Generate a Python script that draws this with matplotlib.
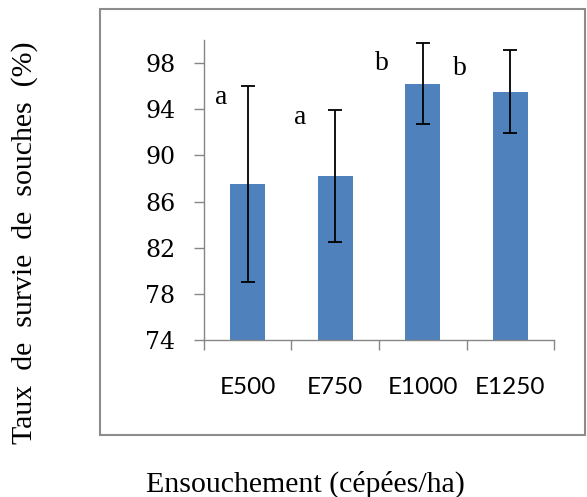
import matplotlib
matplotlib.use("Agg")
import matplotlib.pyplot as plt
from matplotlib.patches import Rectangle
import numpy as np

categories = ["E500", "E750", "E1000", "E1250"]
survival = [87.5, 88.2, 96.2, 95.5]
error = [8.5, 5.7, 3.5, 3.6]
letters = ["a", "a", "b", "b"]
letter_x = [-0.3, 0.6, 1.53, 2.42]
letter_y = [95.0, 93.3, 98.0, 97.5]
yticks = [74, 78, 82, 86, 90, 94, 98]

bar_color = "#4F81BD"
axis_gray = "#868686"

fig = plt.figure(figsize=(5.87, 4.97), dpi=100)
ax = fig.add_axes([0.3475, 0.3159, 0.5963, 0.6036])

x = np.arange(len(categories))
ax.bar(x, survival, width=0.4, color=bar_color, zorder=2)
ax.errorbar(x, survival, yerr=error, fmt="none", ecolor="black",
            elinewidth=1.3, capsize=5, capthick=1.3, zorder=3)

for lx, ly, t in zip(letter_x, letter_y, letters):
    ax.text(lx, ly, t, ha="center", va="center", fontsize=20,
            family="Liberation Serif")

ax.set_xlim(-0.5, len(categories) - 0.5)
ax.set_ylim(74, 100)
ax.set_yticks(yticks)
ax.set_yticklabels([str(v) for v in yticks], family="DejaVu Serif", fontsize=17)
ax.tick_params(axis="y", length=7, width=1, color=axis_gray, pad=13.5)

ax.set_xticks(x)
ax.set_xticklabels(categories, family="Lato", fontsize=17.5)
ax.set_xticks(np.arange(-0.5, len(categories)), minor=True)
ax.tick_params(axis="x", which="major", length=0, pad=26.5)
ax.tick_params(axis="x", which="minor", length=7, width=1, color=axis_gray)

for side in ["top", "right"]:
    ax.spines[side].set_visible(False)
for side in ["left", "bottom"]:
    ax.spines[side].set_color(axis_gray)
    ax.spines[side].set_linewidth(1)

# outer chart frame, Excel style
fig.patches.append(Rectangle((0.1704, 0.1247), 0.8262, 0.8572, transform=fig.transFigure,
                             fill=False, edgecolor="#8c8c8c", linewidth=1.5))

fig.text(0.0426, 0.511, "Taux  de  survie  de  souches  (%)", rotation=90,
         ha="center", va="center", fontsize=21.5, family="Liberation Serif")
fig.text(0.521, 0.01, "Ensouchement (cépées/ha)", ha="center", va="baseline",
         fontsize=21.5, family="Liberation Serif")

fig.savefig("out.png", dpi=100)
